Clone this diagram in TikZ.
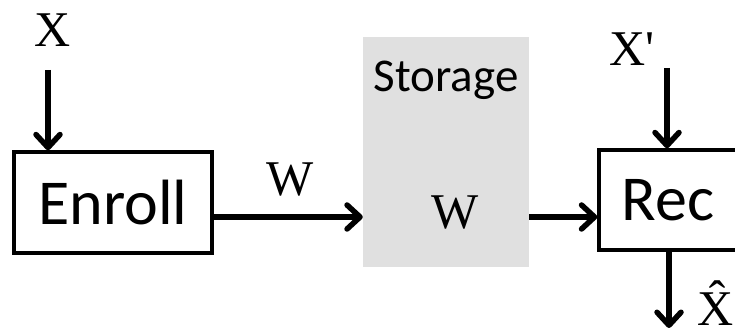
\documentclass[tikz,border=0pt]{standalone}
\usepackage{fontspec}
\setmainfont{Liberation Serif}
\newfontfamily\calfont{Carlito}
\usetikzlibrary{arrows.meta}
\definecolor{storegray}{HTML}{E0E0E0}
\tikzset{
  arr/.style={line width=5.5pt,-{Straight Barb[length=13pt,width=24pt,round]}},
  blockbox/.style={draw,line width=3.4pt,inner sep=0pt,font=\calfont\fontsize{64}{70}\selectfont},
  serlab/.style={inner sep=0pt,font=\fontsize{50}{56}\selectfont},
  callab/.style={inner sep=0pt,font=\calfont\fontsize{47}{52}\selectfont}
}
\begin{document}
\begin{tikzpicture}[x=1pt,y=1pt]
\useasboundingbox (0,0) rectangle (735,331);
\fill[white] (0,0) rectangle (735,331);
% storage
\node[fill=storegray,minimum width=166pt,minimum height=230pt,inner sep=0pt] (storage) at (446,179) {};
\node[callab] (storlab) at (446,251) {Storage};
\node[serlab] (wstore) at (455,118) {W};
% boxes
\node[blockbox,minimum width=198pt,minimum height=101pt] (enroll) at (113,128.5) {Enroll};
\node[blockbox,minimum width=140pt,minimum height=100pt] (rec) at (669,131) {\hspace*{-2pt}Rec};
% labels
\node[serlab] (xlab) at (53,301) {X};
\node[serlab] (wlab) at (290,151) {W};
\node[serlab,anchor=north west] (xplab) at (609,298) {X\textquotesingle};
\node[serlab] (xhat) at (716,28) {\^{X}};
% connectors
\coordinate (xin) at (48,261);
\coordinate (xpin) at (667,263);
\coordinate (xout) at (669,3);
\coordinate (lvl) at (0,114);
\draw[arr] (xin) -- (xin |- enroll.north);
\draw[arr] (enroll.east |- lvl) -- (storage.west |- lvl);
\draw[arr] (storage.east |- lvl) -- (rec.west |- lvl);
\draw[arr] (xpin) -- (xpin |- rec.north);
\draw[arr] (xout |- rec.south) -- (xout);
\end{tikzpicture}
\end{document}
